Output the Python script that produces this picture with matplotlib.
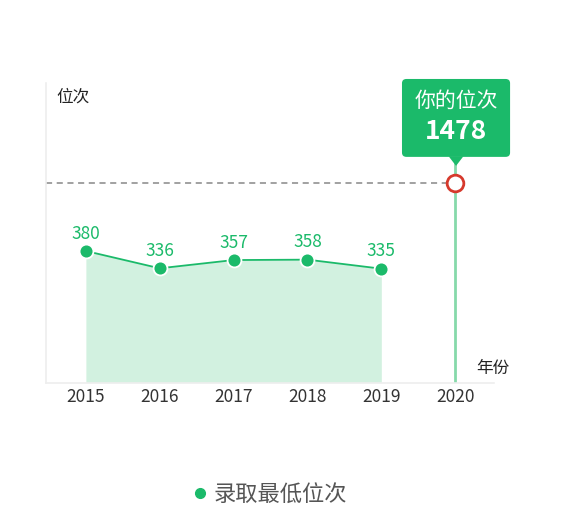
import matplotlib
matplotlib.use('Agg')
import matplotlib.pyplot as plt
from matplotlib.patches import FancyBboxPatch, Polygon
from matplotlib.lines import Line2D
import matplotlib.transforms as mtransforms

plt.rcParams['font.family'] = ['Noto Sans CJK SC', 'DejaVu Sans']

years = ['2015', '2016', '2017', '2018', '2019', '2020']
ranks = [380, 336, 357, 358, 335]
my_rank = 1478
series_name = '录取最低位次'

green = '#1bba6a'
light_green = '#d2f1e0'

fig = plt.figure(figsize=(5.63, 5.30), dpi=100)
ax = fig.add_axes([0.0817, 0.278, 0.795, 0.565])

x = list(range(len(ranks)))
ax.fill_between(x, ranks, 45, color=light_green, lw=0, zorder=1)
ax.plot(x, ranks, color=green, lw=1.3, marker='o', ms=10,
        mfc=green, mec='white', mew=1.3, zorder=3)
for xi, v in zip(x, ranks):
    ax.annotate(str(v), (xi, v), xytext=(0, 6), textcoords='offset points',
                ha='center', va='bottom', color=green, fontsize=12.5)

ax.set_xlim(-0.54, 5.52)
ax.set_ylim(45, 807)
ax.set_xticks(range(len(years)))
ax.set_xticklabels(years, fontsize=12.5, color='#333333')
ax.set_yticks([])
ax.tick_params(axis='x', length=0, pad=4)
for s in ['top', 'right']:
    ax.spines[s].set_visible(False)
ax.spines['left'].set_color('#eeeeee')
ax.spines['bottom'].set_color('#eeeeee')
ax.spines['left'].set_linewidth(1.2)
ax.spines['bottom'].set_linewidth(1.2)

# "your rank" marker, placed in axes height since it is off the data scale
blend = mtransforms.blended_transform_factory(ax.transData, ax.transAxes)
my_y = 0.667
ax.plot([5, 5], [0, my_y], transform=blend, color='#86d9aa', lw=2, zorder=2)
ax.plot([-0.54, 5], [my_y, my_y], transform=blend, color='#888888', lw=1.1,
        ls=(0, (4, 3)), zorder=2)
ax.plot([5], [my_y], transform=blend, marker='o', ms=12, mfc='white',
        mec='#d6392c', mew=2, zorder=5, clip_on=False)
ax.plot([5, 5], [my_y, 0.74], transform=blend, color='#86d9aa', lw=2,
        zorder=2, clip_on=False)

ax.text(0.024, 0.953, '位次', transform=ax.transAxes, fontsize=12,
        color='#222222', va='center', ha='left')
ax.text(1.036, 0.047, '年份', transform=ax.transAxes, fontsize=12,
        color='#222222', va='center', ha='right')

# tooltip box
box = FancyBboxPatch((0.714, 0.704), 0.192, 0.147, transform=fig.transFigure,
                     boxstyle='round,pad=0,rounding_size=0.008',
                     fc=green, ec='none', zorder=10)
fig.patches.append(box)
tri = Polygon([(0.797, 0.705), (0.823, 0.705), (0.810, 0.687)], closed=True,
              transform=fig.transFigure, fc=green, ec='none', zorder=10)
fig.patches.append(tri)
fig.text(0.810, 0.810, '你的位次', color='white', fontsize=15,
         ha='center', va='center', zorder=12)
fig.text(0.810, 0.752, str(my_rank), color='white', fontsize=19,
         fontweight='bold', ha='center', va='center', zorder=12)

handle = Line2D([], [], color=green, marker='o', ls='none', ms=7)
fig.legend([handle], [series_name], loc='center', bbox_to_anchor=(0.474, 0.068),
           frameon=False, fontsize=16, labelcolor='#555555',
           handletextpad=0.0, handlelength=1.2)

fig.savefig('out.png', dpi=100)
